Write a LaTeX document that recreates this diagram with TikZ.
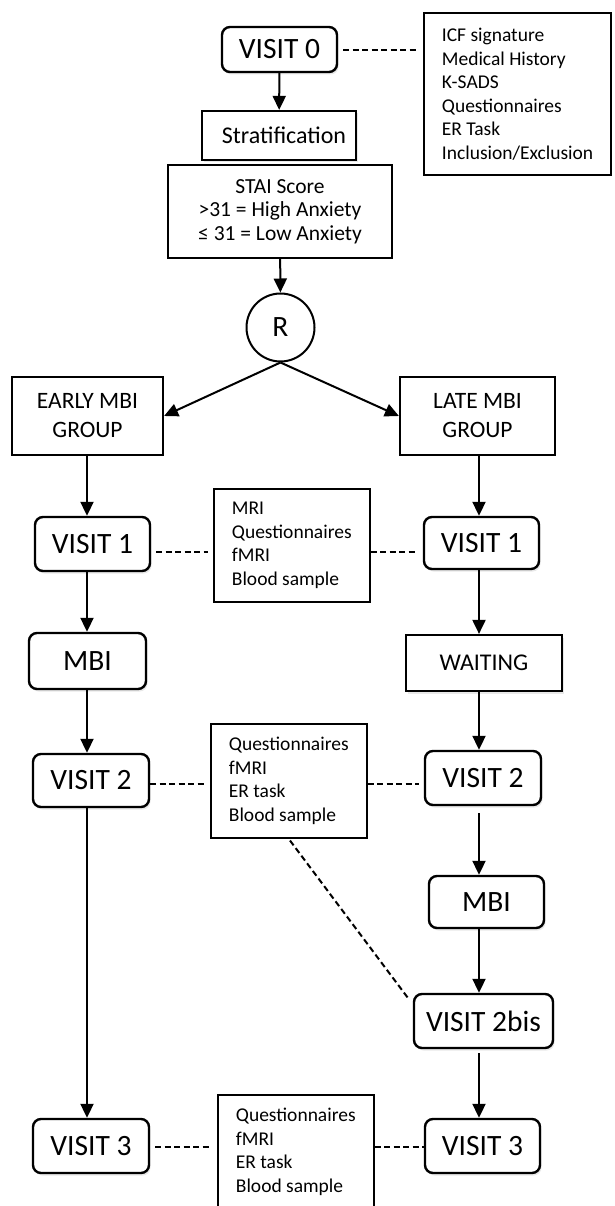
\documentclass[tikz,border=0pt]{standalone}
\usepackage{fontspec}
\setmainfont{Carlito}
\usetikzlibrary{arrows.meta,shadows}
\begin{document}
\begin{tikzpicture}[x=1pt,y=-1pt,
  shd/.style={drop shadow={shadow xshift=1.5pt,shadow yshift=-2.5pt,opacity=0.18}},
  rbox/.style={draw, line width=2.4pt, rounded corners=8pt, fill=white, shd, inner sep=0pt,
    font=\fontsize{29.5}{32}\selectfont},
  sbox/.style={draw, line width=2.2pt, fill=white, inner sep=0pt, align=center},
  info/.style={draw, line width=1.8pt, fill=white, align=left, inner xsep=18pt, inner ysep=0pt,
    font=\fontsize{19.5}{23.5}\selectfont},
  arr/.style={line width=2pt, -{Triangle[length=14pt,width=13pt]}},
  dsh/.style={line width=2pt, dash pattern=on 6pt off 3.5pt}]
\useasboundingbox (0,0) rectangle (614,1206);
\coordinate (cL) at (87,0);
\coordinate (cR) at (479,0);
% top
\node[rbox, minimum width=115pt, minimum height=45pt] (v0) at (279.5,49.5) {VISIT 0};
\node[info, anchor=west, minimum height=162pt] (i0) at (423,94)
  {ICF signature\\Medical History\\K-SADS\\Questionnaires\\ER Task\\Inclusion/Exclusion};
\node[sbox, shd, minimum width=154pt, minimum height=49pt, font=\fontsize{24}{28}\selectfont] (strat) at (279,135.5) {\hspace*{10pt}Stratification};
\node[sbox, minimum width=224pt, minimum height=93pt, font=\fontsize{21.5}{23.5}\selectfont] (stai) at (280,211.5)
  {STAI Score\\>31 = High Anxiety\\≤ 31 = Low Anxiety};
\node[draw, circle, line width=2pt, minimum size=68pt, inner sep=0pt, font=\fontsize{29.5}{32}\selectfont] (R) at (280.5,327.5) {R};
% groups
\node[sbox, minimum width=151pt, minimum height=78pt, font=\fontsize{23.5}{29}\selectfont] (early) at (87.5,416) {EARLY MBI\\GROUP};
\node[sbox, minimum width=155pt, minimum height=78pt, font=\fontsize{23.5}{29}\selectfont] (late) at (477.5,416) {LATE MBI\\GROUP};
% visit 1
\node[rbox, minimum width=115pt, minimum height=54pt] (v1L) at (92.5,544) {VISIT 1};
\node[rbox, minimum width=115pt, minimum height=52pt] (v1R) at (481.5,543) {VISIT 1};
\node[info, anchor=west, minimum height=113pt] (i1) at (213,545.5)
  {MRI\\Questionnaires\\fMRI\\Blood sample};
% MBI / waiting
\node[rbox, minimum width=117pt, minimum height=56pt] (mbiL) at (87.5,661) {MBI};
\node[sbox, shd, minimum width=156pt, minimum height=56pt, font=\fontsize{24}{28}\selectfont] (wait) at (484,663) {WAITING};
% visit 2
\node[rbox, minimum width=116pt, minimum height=53pt] (v2L) at (91,780.5) {VISIT 2};
\node[rbox, minimum width=116pt, minimum height=54pt] (v2R) at (483,778) {VISIT 2};
\node[info, anchor=west, minimum height=114pt] (i2) at (210,781)
  {Questionnaires\\fMRI\\ER task\\Blood sample};
% right MBI and 2bis
\node[rbox, minimum width=115pt, minimum height=52pt] (mbiR) at (486.5,902) {MBI};
\node[rbox, minimum width=139pt, minimum height=54pt] (v2b) at (483.5,1021) {VISIT 2bis};
% visit 3
\node[rbox, minimum width=116pt, minimum height=54pt] (v3L) at (91,1146) {VISIT 3};
\node[rbox, minimum width=115pt, minimum height=54pt] (v3R) at (482.5,1146) {VISIT 3};
\node[info, anchor=west, minimum height=114pt] (i3) at (217,1152)
  {Questionnaires\\fMRI\\ER task\\Blood sample};
% arrows
\draw[arr] (v0) -- (strat);
\draw[arr] (stai) -- (R);
\draw[arr] (R.south) -- (early.east);
\draw[arr] (R.south) -- (late.west);
\draw[arr] (early.south -| cL) -- (v1L.north -| cL);
\draw[arr] (late.south -| cR) -- (v1R.north -| cR);
\draw[arr] (v1L.south -| cL) -- (mbiL.north -| cL);
\draw[arr] (v1R.south -| cR) -- (wait.north -| cR);
\draw[arr] (mbiL.south -| cL) -- (v2L.north -| cL);
\draw[arr] (wait.south -| cR) -- (v2R.north -| cR);
\draw[arr] (v2L.south -| cL) -- (v3L.north -| cL);
\draw[arr, shorten <=7pt] (v2R.south -| cR) -- (mbiR.north -| cR);
\draw[arr] (mbiR.south -| cR) -- (v2b.north -| cR);
\draw[arr, shorten <=4pt] (v2b.south -| cR) -- (v3R.north -| cR);
% dashed links
\coordinate (y0) at (0,50);
\coordinate (y1) at (0,552);
\coordinate (y2) at (0,783.5);
\coordinate (y3) at (0,1146.5);
\draw[dsh, shorten <=5pt, shorten >=5pt] (v0.east |- y0) -- (i0.west |- y0);
\draw[dsh, shorten <=5pt, shorten >=5pt] (v1L.east |- y1) -- (i1.west |- y1);
\draw[dsh, shorten >=5pt] (i1.east |- y1) -- (v1R.west |- y1);
\draw[dsh, shorten >=5pt] (v2L.east |- y2) -- (i2.west |- y2);
\draw[dsh, shorten >=5pt] (i2.east |- y2) -- (v2R.west |- y2);
\draw[dsh, shorten <=5pt, shorten >=7pt] (v3L.east |- y3) -- (i3.west |- y3);
\draw[dsh] (i3.east |- y3) -- (v3R.west |- y3);
\draw[dsh, shorten <=2pt] (i2.south) -- ([xshift=-5pt,yshift=-5pt]v2b.north west);
\end{tikzpicture}
\end{document}
